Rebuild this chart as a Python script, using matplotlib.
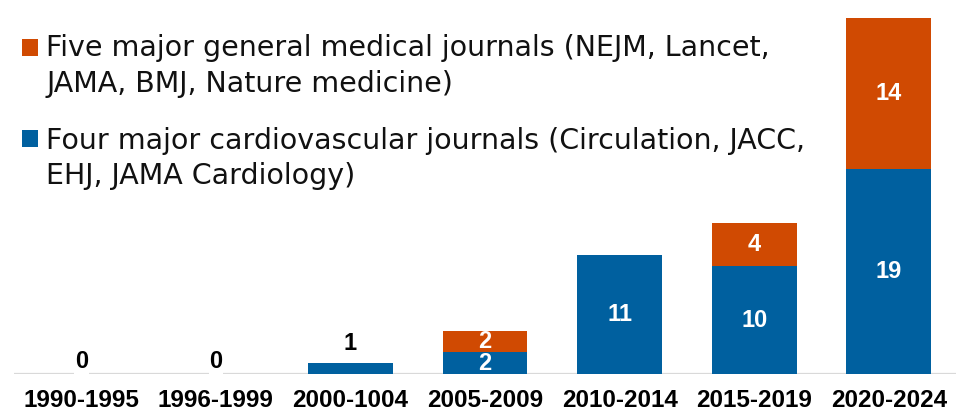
import matplotlib
matplotlib.use("Agg")
import matplotlib.pyplot as plt
from matplotlib.patches import Rectangle
import numpy as np

plt.rcParams['font.family'] = ['Liberation Sans', 'DejaVu Sans']

categories = ["1990-1995", "1996-1999", "2000-1004", "2005-2009", "2010-2014", "2015-2019", "2020-2024"]
cardio = [0, 0, 1, 2, 11, 10, 19]
general = [0, 0, 0, 2, 0, 4, 14]
legend_general = ["Five major general medical journals (NEJM, Lancet,", "JAMA, BMJ, Nature medicine)"]
legend_cardio = ["Four major cardiovascular journals (Circulation, JACC,", "EHJ, JAMA Cardiology)"]

BLUE = "#00609F"
ORANGE = "#D04A02"

W, H = 960, 420
fig = plt.figure(figsize=(9.6, 4.2), dpi=100)
ax = fig.add_axes([14 / W, 46 / H, 942 / W, 356.3 / H])

x = np.arange(len(categories))
width = 0.63
ax.bar(x, cardio, width, color=BLUE, zorder=2)
ax.bar(x, general, width, bottom=cardio, color=ORANGE, zorder=2)

ax.set_xlim(-0.5, len(categories) - 0.5)
ax.set_ylim(0, 33)
ax.axhline(0, color="#D9D9D9", lw=1.6, zorder=1)
for s in ax.spines.values():
    s.set_visible(False)
ax.set_yticks([])
ax.set_xticks(x)
ax.set_xticklabels(categories, fontsize=17.5, fontweight="bold")
ax.tick_params(axis="x", length=0, pad=10.5)

lab_fs = 17
for i, (c, g) in enumerate(zip(cardio, general)):
    total = c + g
    if total == 0:
        ax.text(i, 0.05, "0", ha="center", va="bottom", fontsize=lab_fs, fontweight="bold",
                color="black", zorder=3,
                bbox=dict(facecolor="white", edgecolor="none", pad=0.5))
        continue
    if c <= 1 and g == 0:
        ax.annotate(str(c), (i, c), xytext=(0, 6), textcoords="offset points",
                    ha="center", va="bottom", fontsize=lab_fs, fontweight="bold", color="black")
        continue
    if c > 0:
        ax.text(i, c / 2, str(c), ha="center", va="center", fontsize=lab_fs,
                fontweight="bold", color="white", zorder=3)
    if g > 0:
        ax.text(i, c + g / 2, str(g), ha="center", va="center", fontsize=lab_fs,
                fontweight="bold", color="white", zorder=3)

# Legend drawn manually (square aligned with first line)
leg_fs = 20.5
def put_entry(lines, baselines, color, sq_top):
    fig.patches.append(Rectangle((21.5 / W, (H - sq_top - 16.7) / H), 16.3 / W, 16.7 / H,
                                 transform=fig.transFigure, facecolor=color, edgecolor="none"))
    for line, b in zip(lines, baselines):
        fig.text(46.5 / W, (H - b) / H, line, fontsize=leg_fs, color="#111111",
                 ha="left", va="baseline", family="DejaVu Sans")

put_entry(legend_general, [56, 91.7], ORANGE, 39.3)
put_entry(legend_cardio, [149.3, 184.3], BLUE, 130)

fig.savefig("out.png", dpi=100)
